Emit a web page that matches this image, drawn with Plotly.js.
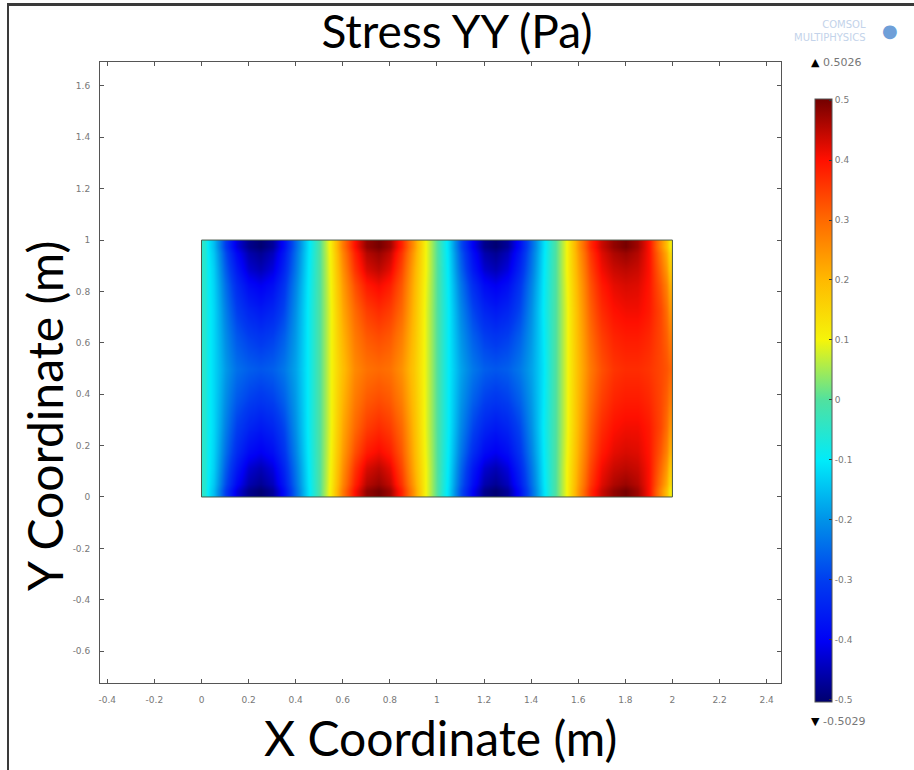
<!DOCTYPE html>
<html>
<head>
<meta charset="utf-8">
<script src="https://cdn.plot.ly/plotly-3.0.1.min.js"></script>
<style>
  html, body { margin: 0; padding: 0; background: #fff; }
  #wrap { position: relative; width: 914px; height: 770px; overflow: hidden; }
  #chart { width: 914px; height: 770px; }
  #frame { position: absolute; left: 7px; top: 3px; right: -10px; bottom: -10px;
           border-top: 3px solid #3a3a3a; border-left: 2px solid #3a3a3a; pointer-events: none; }
</style>
</head>
<body>
<div id="wrap"><div id="chart"></div><div id="frame"></div></div>
<script>
// ---- data ----
const xs = [0.00,0.05,0.10,0.15,0.20,0.25,0.30,0.35,0.40,0.45,0.50,0.55,0.60,0.65,0.70,0.75,0.80,0.85,0.90,0.95,
            1.00,1.05,1.10,1.15,1.20,1.25,1.30,1.35,1.40,1.45,1.50,1.55,1.60,1.65,1.70,1.75,1.80,1.85,1.90,1.95,2.00];
const ys = [0.00, 0.10, 0.25, 0.50, 0.75, 0.90, 1.00];

const rowY000 = [-0.05,-0.15,-0.30,-0.42,-0.48,-0.50,-0.47,-0.38,-0.25,-0.12,0.00,0.12,0.28,0.40,0.48,0.50,0.47,0.38,0.25,0.10,
                 0.00,-0.12,-0.28,-0.40,-0.48,-0.50,-0.47,-0.38,-0.25,-0.12,-0.01,0.10,0.25,0.37,0.44,0.48,0.50,0.47,0.40,0.26,0.12];
const rowY010 = [-0.05,-0.13,-0.26,-0.36,-0.43,-0.45,-0.42,-0.34,-0.23,-0.11,0.00,0.11,0.25,0.36,0.43,0.45,0.42,0.34,0.22,0.10,
                 0.00,-0.11,-0.25,-0.36,-0.43,-0.45,-0.42,-0.34,-0.23,-0.11,-0.01,0.10,0.23,0.34,0.41,0.44,0.45,0.44,0.40,0.30,0.18];
const rowY025 = [-0.05,-0.12,-0.22,-0.30,-0.34,-0.36,-0.34,-0.29,-0.20,-0.10,0.00,0.10,0.22,0.30,0.35,0.37,0.35,0.30,0.20,0.09,
                 0.00,-0.10,-0.21,-0.29,-0.34,-0.36,-0.34,-0.29,-0.20,-0.10,-0.01,0.09,0.21,0.31,0.37,0.40,0.41,0.41,0.39,0.34,0.25];
const rowY050 = [-0.05,-0.12,-0.19,-0.24,-0.26,-0.27,-0.26,-0.23,-0.18,-0.10,0.00,0.10,0.19,0.26,0.29,0.30,0.29,0.25,0.18,0.09,
                 0.00,-0.10,-0.18,-0.23,-0.26,-0.27,-0.26,-0.23,-0.18,-0.11,-0.01,0.09,0.20,0.28,0.33,0.36,0.37,0.37,0.36,0.34,0.31];
const rowY075 = [-0.05,-0.12,-0.22,-0.30,-0.34,-0.36,-0.34,-0.29,-0.20,-0.10,0.00,0.10,0.22,0.30,0.35,0.37,0.35,0.30,0.20,0.09,
                 0.00,-0.10,-0.21,-0.29,-0.34,-0.36,-0.34,-0.29,-0.20,-0.10,-0.01,0.09,0.21,0.31,0.37,0.40,0.41,0.41,0.39,0.34,0.25];
const rowY090 = [-0.05,-0.13,-0.26,-0.36,-0.43,-0.45,-0.42,-0.34,-0.23,-0.11,0.00,0.11,0.25,0.36,0.43,0.45,0.42,0.34,0.22,0.10,
                 0.00,-0.11,-0.25,-0.36,-0.43,-0.45,-0.42,-0.34,-0.23,-0.11,-0.01,0.10,0.23,0.34,0.41,0.44,0.45,0.44,0.40,0.30,0.18];
const rowY100 = [-0.05,-0.15,-0.30,-0.42,-0.48,-0.50,-0.47,-0.38,-0.25,-0.12,0.00,0.12,0.28,0.40,0.48,0.50,0.47,0.38,0.25,0.10,
                 0.00,-0.12,-0.28,-0.40,-0.48,-0.50,-0.47,-0.38,-0.25,-0.12,-0.01,0.10,0.25,0.37,0.44,0.48,0.50,0.47,0.40,0.26,0.12];

const dataMax = 0.5026;
const dataMin = -0.5029;

const xTickVals = [-0.4,-0.2,0,0.2,0.4,0.6,0.8,1,1.2,1.4,1.6,1.8,2,2.2,2.4];
const xTickText = ['-0.4','-0.2','0','0.2','0.4','0.6','0.8','1','1.2','1.4','1.6','1.8','2','2.2','2.4'];
const yTickVals = [-0.6,-0.4,-0.2,0,0.2,0.4,0.6,0.8,1,1.2,1.4,1.6];
const yTickText = ['-0.6','-0.4','-0.2','0','0.2','0.4','0.6','0.8','1','1.2','1.4','1.6'];
const cbTickVals = [-0.5,-0.4,-0.3,-0.2,-0.1,0,0.1,0.2,0.3,0.4,0.5];
const cbTickText = ['-0.5','-0.4','-0.3','-0.2','-0.1','0','0.1','0.2','0.3','0.4','0.5'];

// ---- build ----
const zGrid = [rowY000, rowY010, rowY025, rowY050, rowY075, rowY090, rowY100];
// cell bounds so the smoothed image ends exactly at the first/last sample
function bounds(c) {
  const e = [c[0]];
  for (let i = 1; i < c.length; i++) e.push((c[i - 1] + c[i]) / 2);
  e.push(c[c.length - 1]);
  return e;
}

const rainbow = [
  [0.0, 'rgb(0,0,110)'],
  [0.1, 'rgb(0,0,245)'],
  [0.2, 'rgb(0,60,240)'],
  [0.3, 'rgb(0,145,232)'],
  [0.4, 'rgb(0,235,250)'],
  [0.5, 'rgb(80,225,160)'],
  [0.6, 'rgb(245,245,10)'],
  [0.7, 'rgb(255,185,0)'],
  [0.8, 'rgb(255,105,0)'],
  [0.9, 'rgb(255,15,0)'],
  [1.0, 'rgb(115,0,0)']
];

const tickFont = { family: 'DejaVu Sans', size: 9, color: '#777' };
const titleFont = { family: 'Lato', size: 46, color: '#000' };
const axisTitleFont = { family: 'Lato', size: 48, color: '#000' };

const trace = {
  type: 'heatmap',
  x: bounds(xs),
  y: bounds(ys),
  z: zGrid,
  zsmooth: 'best',
  colorscale: rainbow,
  zmin: dataMin,
  zmax: dataMax,
  hoverinfo: 'x+y+z',
  colorbar: {
    x: 1.05, xanchor: 'left', xref: 'paper',
    y: 0.4557, yanchor: 'middle', yref: 'paper',
    lenmode: 'pixels', len: 603,
    thicknessmode: 'pixels', thickness: 17,
    xpad: 0, ypad: 0,
    outlinewidth: 1, outlinecolor: '#555',
    tickmode: 'array', tickvals: cbTickVals, ticktext: cbTickText,
    ticks: 'inside', ticklen: 3, tickcolor: '#333',
    tickfont: tickFont, ticklabelstandoff: 4
  }
};

const axisCommon = {
  showgrid: false, zeroline: false,
  showline: true, linecolor: '#555', linewidth: 1, mirror: 'ticks',
  ticks: 'inside', ticklen: 4, tickcolor: '#555', tickwidth: 1,
  tickmode: 'array', tickfont: tickFont
};

const layout = {
  width: 914, height: 770,
  margin: { l: 100, r: 133, t: 62, b: 87 },
  paper_bgcolor: '#fff', plot_bgcolor: '#fff',
  title: { text: 'Stress YY (Pa)', font: titleFont, x: 0.5, xref: 'container', xanchor: 'center',
           y: 1 - 32 / 770, yref: 'container', yanchor: 'middle' },
  xaxis: Object.assign({}, axisCommon, {
    range: [-0.431, 2.461], tickvals: xTickVals, ticktext: xTickText, ticklabelstandoff: 8,
    automargin: false
  }),
  yaxis: Object.assign({}, axisCommon, {
    range: [-0.724, 1.693], tickvals: yTickVals, ticktext: yTickText, ticklabelstandoff: 7,
    automargin: false
  }),
  shapes: [{
    type: 'rect', xref: 'x', yref: 'y',
    x0: xs[0], x1: xs[xs.length - 1], y0: ys[0], y1: ys[ys.length - 1],
    line: { color: '#4a5a4a', width: 1 }, fillcolor: 'rgba(0,0,0,0)'
  }],
  annotations: [
    { text: 'X Coordinate (m)', font: axisTitleFont, showarrow: false,
      xref: 'paper', yref: 'paper', x: 0.5, y: -0.0885, xanchor: 'center', yanchor: 'middle' },
    { text: 'Y Coordinate (m)', textangle: -90, font: axisTitleFont, showarrow: false,
      xref: 'paper', yref: 'paper', x: -0.0808, y: 0.4300, xanchor: 'center', yanchor: 'middle' },
    { text: '<span style="color:#000">▲</span> ' + dataMax, font: { family: 'DejaVu Sans', size: 11, color: '#777' },
      showarrow: false, xref: 'paper', yref: 'paper', x: 1.0808, y: 0.9984, xanchor: 'center', yanchor: 'middle' },
    { text: '<span style="color:#000">▼</span> ' + dataMin, font: { family: 'DejaVu Sans', size: 11, color: '#777' },
      showarrow: false, xref: 'paper', yref: 'paper', x: 1.0837, y: -0.0628, xanchor: 'center', yanchor: 'middle' },
    { text: 'COMSOL<br>MULTIPHYSICS', font: { family: 'DejaVu Sans', size: 10, color: '#c3d3ea' }, align: 'right',
      showarrow: false, xref: 'paper', yref: 'paper', x: 1.1278, y: 1.050, xanchor: 'right', yanchor: 'middle' },
    { text: '●', font: { family: 'DejaVu Sans', size: 18, color: '#6f9fd8' },
      showarrow: false, xref: 'paper', yref: 'paper', x: 1.160, y: 1.050, xanchor: 'center', yanchor: 'middle' }
  ]
};

Plotly.newPlot('chart', [trace], layout, { displayModeBar: false, staticPlot: true });
</script>
</body>
</html>
